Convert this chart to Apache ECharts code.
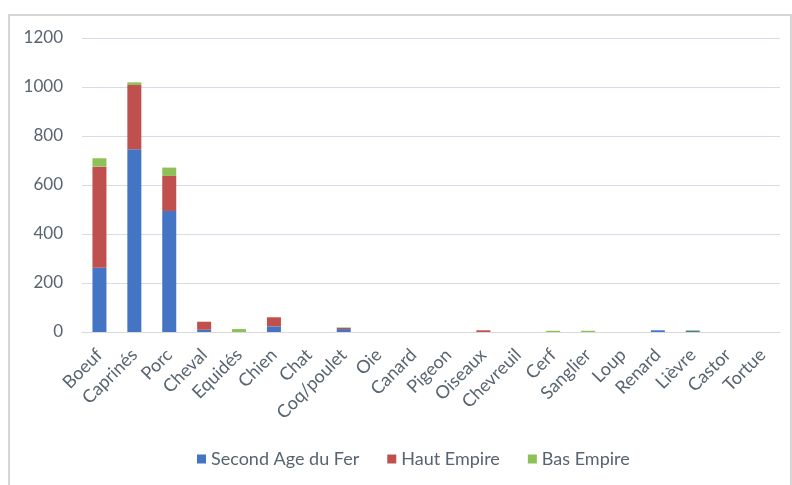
<!DOCTYPE html>
<html>
<head>
<meta charset="utf-8">
<script src="https://cdn.jsdelivr.net/npm/echarts@6/dist/echarts.min.js"></script>
<style>
html,body{margin:0;padding:0;background:#fff;}
#chart{width:792px;height:485px;}
</style>
</head>
<body>
<div id="chart"></div>
<script>
const categories = ["Boeuf","Caprinés","Porc","Cheval","Equidés","Chien","Chat","Coq/poulet","Oie","Canard","Pigeon","Oiseaux","Chevreuil","Cerf","Sanglier","Loup","Renard","Lièvre","Castor","Tortue"];
const secondAgeDuFer = [262,746,494,9,0,23,0,12,0,0,0,0,0,0,0,0,7,4,0,0];
const hautEmpire     = [413,262,143,33,0,37,0,5,0,0,0,7,0,0,0,0,0,0,0,0];
const basEmpire      = [34,11,34,0,12,0,0,2,0,0,0,0,0,5,5,0,0,3,0,0];
const seriesNames = ["Second Age du Fer","Haut Empire","Bas Empire"];
const yTicks = [0,200,400,600,800,1000,1200];

const colors = ["#4475C5","#C0504D","#8DC057"];
const fontFam = "Lato, 'Open Sans', sans-serif";
const txt = "#586471";

const chart = echarts.init(document.getElementById('chart'), null, {renderer:'canvas'});
const mk = (name, data, i) => ({
  name, type:'bar', stack:'total', data, barWidth:14,
  itemStyle:{color:colors[i]}, emphasis:{disabled:true}
});
chart.setOption({
  animation:false,
  graphic:[{type:'rect', shape:{x:9,y:15,width:782,height:480}, style:{fill:'none', stroke:'#D6D6D6', lineWidth:2}, silent:true}],
  grid:{left:82, right:12, top:38, bottom:153, containLabel:false},
  legend:{
    data:seriesNames, bottom:12, left:192, itemWidth:9, itemHeight:9, itemGap:28,
    icon:'rect', textStyle:{color:txt, fontSize:18, fontFamily:fontFam}
  },
  xAxis:{
    type:'category', data:categories,
    axisLine:{show:true, lineStyle:{color:'#D9D9D9'}},
    axisTick:{show:false},
    axisLabel:{rotate:45, interval:0, margin:20, color:txt, fontSize:18, fontFamily:fontFam}
  },
  yAxis:{
    type:'value', min:yTicks[0], max:yTicks[yTicks.length-1], interval:200,
    axisLine:{show:false}, axisTick:{show:false},
    axisLabel:{margin:19, color:txt, fontSize:17, fontFamily:fontFam, formatter:(v)=>String(v)},
    splitLine:{lineStyle:{color:'#D3DEEA', width:1}}
  },
  series:[mk(seriesNames[0], secondAgeDuFer, 0), mk(seriesNames[1], hautEmpire, 1), mk(seriesNames[2], basEmpire, 2)]
});
</script>
</body>
</html>
